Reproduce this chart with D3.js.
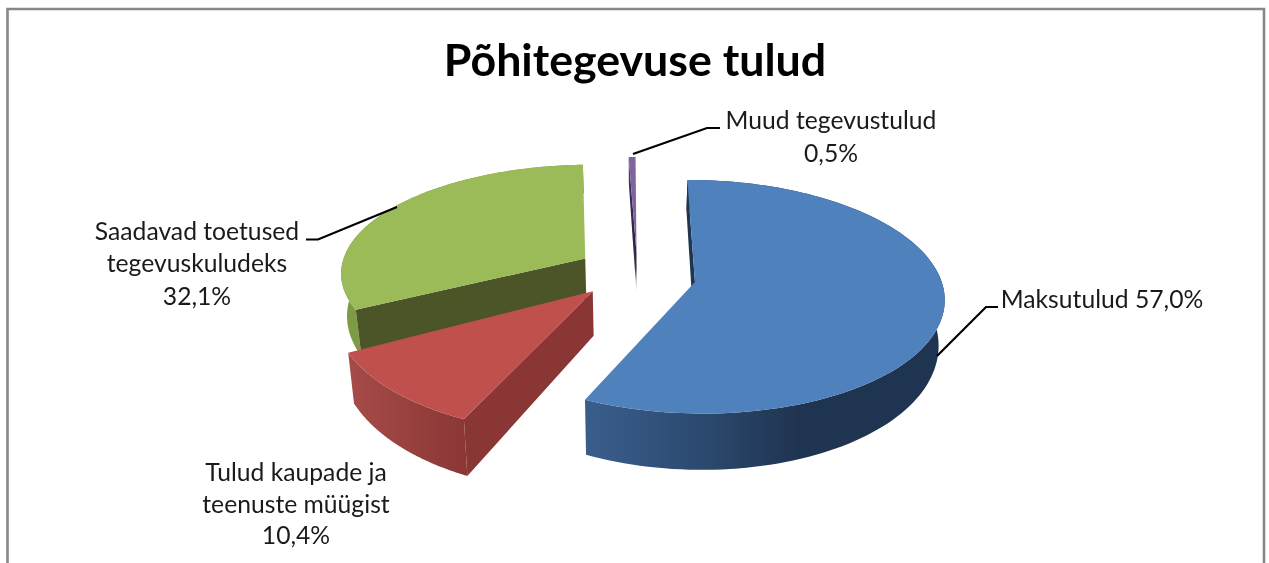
<!DOCTYPE html>
<html><head><meta charset="utf-8">
<script src="https://cdn.jsdelivr.net/npm/d3@7"></script>
<style>html,body{margin:0;padding:0;background:#fff}svg{display:block;filter:blur(0.45px)}text{font-family:Lato,"Open Sans",sans-serif;fill:#1a1a1a}</style>
</head><body><div id="c"></div>
<script>
const titleText = "Põhitegevuse tulud";
const categories = ["Maksutulud","Tulud kaupade ja teenuste müügist","Saadavad toetused tegevuskuludeks","Muud tegevustulud"];
const values = [57.0,10.4,32.1,0.5];
const valueLabels = ["57,0%","10,4%","32,1%","0,5%"];

const W=1269,H=563;
const svg=d3.select("#c").append("svg").attr("width",W).attr("height",H);
const defs=svg.append("defs");

// frame
svg.append("path").attr("d",`M7.5 ${H}V9H1264V${H}`).attr("fill","none").attr("stroke","#878787").attr("stroke-width",2.6);

// 3D perspective projection of the pie disc; each slice is pulled out on its own
const C={x:638,y:278},R=252,K=114.5,P=0.126;
const OFFSET_U=[0.225,-0.177,-0.214,-0.006];
const OFFSET_V=[0.035,0.115,-0.175,-0.220];
const SIZE_X=[0.975,1.0,0.98,1.0];
const SIZE_Y=[0.995,1.05,0.955,1.0];
function proj(u,v,h){
  const s=1/(1-P*v);
  const depth=h*43*(1+0.3*v);
  return [C.x+R*u*s*(1-0.02*h), C.y+K*v*s+depth];
}
const start=-0.3*Math.PI/180;
const arcs=d3.pie().sort(null).startAngle(start).endAngle(start+2*Math.PI)(values);
const styles=[
 {top:"#4f81bd",wall:"#1f3550",g:["#3a5e8c","#2c4a70","#1f3450","#1f3450"],gx:[585,700,800,940]},
 {top:"#c0504d",wall:"#893634",g:["#a64b48","#8a3735"],gx:[350,465]},
 {top:"#9bbb59",wall:"#4b5527",g:["#7d9a44","#7d9a44"],gx:[340,400]},
 {top:"#8064a2",wall:"url(#tipFade)",g:["#3a2d50","#3a2d50"],gx:[620,640]}
];
const tip=defs.append("linearGradient").attr("id","tipFade").attr("gradientUnits","userSpaceOnUse")
  .attr("x1",0).attr("x2",0).attr("y1",160).attr("y2",292);
[[0,"#4a3a66"],[0.6,"#2a2140"],[0.82,"#3a3350"],[1,"#ffffff"]].forEach(d=>tip.append("stop").attr("offset",d[0]).attr("stop-color",d[1]));

const line=d3.line();
const slices=arcs.map((a,i)=>{
  const ou=OFFSET_U[i], ov=OFFSET_V[i];
  const pts=d3.range(0,121).map(j=>a.startAngle+(a.endAngle-a.startAngle)*j/120);
  const rim=h=>pts.map(t=>proj(ou+SIZE_X[i]*Math.sin(t),ov-SIZE_Y[i]*Math.cos(t),h));
  const apex=h=>proj(ou,ov,h);
  return {i,ov,rim,apex};
}).sort((a,b)=>a.ov-b.ov);

slices.forEach(s=>{
  const st=styles[s.i], g=svg.append("g");
  const gid="wg"+s.i;
  const lg=defs.append("linearGradient").attr("id",gid).attr("gradientUnits","userSpaceOnUse")
    .attr("x1",st.gx[0]).attr("x2",st.gx[st.gx.length-1]).attr("y1",0).attr("y2",0);
  st.g.forEach((c,k)=>lg.append("stop").attr("offset",(st.gx[k]-st.gx[0])/(st.gx[st.gx.length-1]-st.gx[0])).attr("stop-color",c));
  const r0=s.rim(0), r1=s.rim(1);
  // outer wall
  if(s.i!==3) g.append("path").attr("d",line(r0.concat(r1.slice().reverse()))+"Z").attr("fill",`url(#${gid})`);
  // the one cut wall that faces the viewer
  g.append("path").attr("d",line([r0[0],s.apex(0),s.apex(1),r1[0]])+"Z").attr("fill",st.wall);
  // top
  g.append("path").attr("d",line([s.apex(0)].concat(r0))+"Z").attr("fill",st.top);
});

// leader lines
const leaders=[
 [[633,154],[707,128],[720,128]],
 [[937,356],[986,307],[998,307]],
 [[397,207],[318,239.5],[306,239.5]]
];
svg.selectAll("path.leader").data(leaders).join("path").attr("class","leader")
  .attr("d",d=>line(d)).attr("fill","none").attr("stroke","#000").attr("stroke-width",2.2);

// text
svg.append("text").attr("x",635).attr("y",76).attr("text-anchor","middle")
  .attr("font-size",44.7).attr("font-weight",700).style("fill","#000").text(titleText);
const labelLines=[
 {x:1102,y:[308],lines:[categories[0]+" "+valueLabels[0]]},
 {x:296,y:[481,513,544],lines:["Tulud kaupade ja","teenuste müügist",valueLabels[1]]},
 {x:197,y:[240,272,305],lines:["Saadavad toetused","tegevuskuludeks",valueLabels[2]]},
 {x:831,y:[129,162],lines:[categories[3],valueLabels[3]]}
];
labelLines.forEach(l=>l.lines.forEach((t,i)=>svg.append("text").attr("x",l.x).attr("y",l.y[i])
  .attr("text-anchor","middle").attr("font-size",24.7).text(t)));
</script></body></html>
